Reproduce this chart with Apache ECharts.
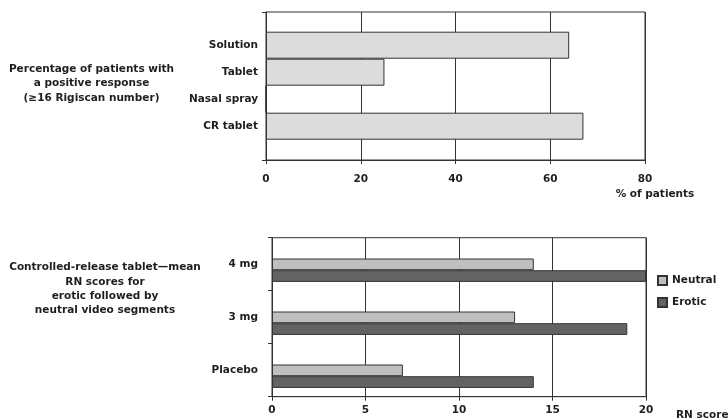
<!DOCTYPE html>
<html>
<head>
<meta charset="utf-8">
<script src="https://cdn.jsdelivr.net/npm/echarts@6/dist/echarts.min.js"></script>
<style>
html,body{margin:0;padding:0;background:#fff;}
#chart{width:728px;height:419px;}
</style>
</head>
<body>
<div id="chart"></div>
<script>
// ---- data ----
var topCategories = ['Solution', 'Tablet', 'Nasal spray', 'CR tablet'];
var topValues = [64, 25, 0, 67];
var topTitle = 'Percentage of patients with\na positive response\n(\u226516 Rigiscan number)';
var topAxisName = '% of patients';

var doseCategories = ['4 mg', '3 mg', 'Placebo'];
var neutralValues = [14, 13, 7];
var eroticValues = [20, 19, 14];
var bottomTitle = 'Controlled-release tablet\u2014mean\nRN scores for\nerotic followed by\nneutral video segments';
var bottomAxisName = 'RN score';
var seriesNames = ['Neutral', 'Erotic'];

var FONT = 'DejaVu Sans';
var TXT = '#1e1e1e';
var LINE = '#333';
var FS = 10.5;

var chart = echarts.init(document.getElementById('chart'), null, {renderer: 'canvas'});

var labelStyle = {fontFamily: FONT, fontWeight: 'bold', fontSize: FS, color: TXT};

var option = {
  animation: false,
  backgroundColor: '#fff',
  grid: [
    {left: 266, right: 83, top: 12, bottom: 259, show: true, borderColor: LINE, borderWidth: 1, backgroundColor: 'transparent'},
    {left: 266, right: 83, top: 31.7, bottom: 279.3},
    {left: 272, right: 82, top: 237.7, bottom: 22.3, show: true, borderColor: LINE, borderWidth: 1, backgroundColor: 'transparent'},
    {left: 272, right: 82, top: 243.7, bottom: 16.3}
  ],
  xAxis: [
    {gridIndex: 0, type: 'value', min: 0, max: 80, interval: 20,
      axisLine: {show: true, lineStyle: {color: LINE, width: 1}},
      axisTick: {show: true, length: 4, lineStyle: {color: LINE}},
      splitLine: {show: true, lineStyle: {color: LINE, width: 1}},
      axisLabel: Object.assign({margin: 14}, labelStyle)},
    {gridIndex: 1, type: 'value', min: 0, max: 80, show: false},
    {gridIndex: 2, type: 'value', min: 0, max: 20, interval: 5,
      axisLine: {show: true, lineStyle: {color: LINE, width: 1}},
      axisTick: {show: true, length: 4, lineStyle: {color: LINE}},
      splitLine: {show: true, lineStyle: {color: LINE, width: 1}},
      axisLabel: Object.assign({margin: 8}, labelStyle)},
    {gridIndex: 3, type: 'value', min: 0, max: 20, show: false}
  ],
  yAxis: [
    {gridIndex: 0, type: 'value', min: 0, max: 1, interval: 1,
      axisLine: {show: true, lineStyle: {color: LINE, width: 1}},
      axisTick: {show: true, length: 4, lineStyle: {color: LINE}},
      splitLine: {show: false}, axisLabel: {show: false}},
    {gridIndex: 1, type: 'category', data: topCategories, inverse: true,
      axisLine: {show: false}, axisTick: {show: false},
      axisLabel: Object.assign({margin: 8}, labelStyle)},
    {gridIndex: 2, type: 'category', data: doseCategories, inverse: true,
      axisLine: {show: true, lineStyle: {color: LINE, width: 1}},
      axisTick: {show: true, length: 4, lineStyle: {color: LINE}},
      axisLabel: Object.assign({margin: 14}, labelStyle)},
    {gridIndex: 3, type: 'category', data: doseCategories, inverse: true, show: false}
  ],
  legend: {
    orient: 'vertical', left: 652, top: 270,
    itemWidth: 9, itemHeight: 9, itemGap: 11,
    icon: 'rect',
    data: seriesNames,
    textStyle: {fontFamily: FONT, fontWeight: 'bold', fontSize: FS, color: TXT}
  },
  series: [
    {type: 'bar', name: 'top', xAxisIndex: 1, yAxisIndex: 1, data: topValues,
      barCategoryGap: '0%',
      itemStyle: {color: '#dcdcdc', borderColor: LINE, borderWidth: 1}},
    {type: 'bar', name: seriesNames[0], xAxisIndex: 3, yAxisIndex: 3, data: neutralValues,
      barWidth: 11.7, barGap: '0%',
      itemStyle: {color: '#bfbfbf', borderColor: LINE, borderWidth: 1}},
    {type: 'bar', name: seriesNames[1], xAxisIndex: 3, yAxisIndex: 3, data: eroticValues,
      barWidth: 11.7, barGap: '0%',
      itemStyle: {color: '#636363', borderColor: LINE, borderWidth: 1}}
  ],
  graphic: [
    {type: 'text', style: {
      text: topTitle, x: 91.5, y: 83.5, align: 'center', verticalAlign: 'middle',
      font: 'bold ' + FS + 'px "' + FONT + '"', lineHeight: 14.4, fill: TXT}},
    {type: 'text', style: {
      text: bottomTitle, x: 105, y: 289, align: 'center', verticalAlign: 'middle',
      font: 'bold ' + FS + 'px "' + FONT + '"', lineHeight: 14.4, fill: TXT}},
    {type: 'text', style: {
      text: topAxisName, x: 655, y: 194, align: 'center', verticalAlign: 'middle',
      font: 'bold ' + FS + 'px "' + FONT + '"', fill: TXT}},
    {type: 'text', style: {
      text: bottomAxisName, x: 676, y: 415, align: 'left', verticalAlign: 'middle',
      font: 'bold ' + FS + 'px "' + FONT + '"', fill: TXT}}
  ]
};
chart.setOption(option);
</script>
</body>
</html>
